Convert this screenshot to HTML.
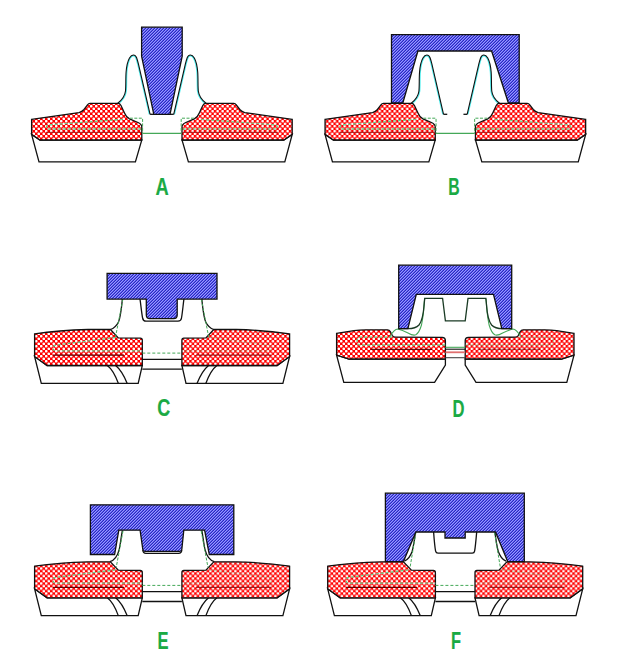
<!DOCTYPE html>
<html><head><meta charset="utf-8"><style>
html,body{margin:0;padding:0;background:#fff;}
svg{display:block;}
</style></head><body>
<svg width="625" height="658" viewBox="0 0 625 658">
<defs><pattern id="blue" width="6" height="6" patternUnits="userSpaceOnUse" shape-rendering="crispEdges"><rect x="0" y="0" width="1" height="1" fill="#9898ff"/><rect x="1" y="0" width="1" height="1" fill="#5a5af0"/><rect x="2" y="0" width="1" height="1" fill="#2a2abc"/><rect x="3" y="0" width="1" height="1" fill="#9898ff"/><rect x="4" y="0" width="1" height="1" fill="#5a5af0"/><rect x="5" y="0" width="1" height="1" fill="#2a2abc"/><rect x="0" y="1" width="1" height="1" fill="#5a5af0"/><rect x="1" y="1" width="1" height="1" fill="#2a2abc"/><rect x="2" y="1" width="1" height="1" fill="#9898ff"/><rect x="3" y="1" width="1" height="1" fill="#5a5af0"/><rect x="4" y="1" width="1" height="1" fill="#2a2abc"/><rect x="5" y="1" width="1" height="1" fill="#9898ff"/><rect x="0" y="2" width="1" height="1" fill="#2a2abc"/><rect x="1" y="2" width="1" height="1" fill="#9898ff"/><rect x="2" y="2" width="1" height="1" fill="#5a5af0"/><rect x="3" y="2" width="1" height="1" fill="#2a2abc"/><rect x="4" y="2" width="1" height="1" fill="#9898ff"/><rect x="5" y="2" width="1" height="1" fill="#5a5af0"/><rect x="0" y="3" width="1" height="1" fill="#9898ff"/><rect x="1" y="3" width="1" height="1" fill="#5a5af0"/><rect x="2" y="3" width="1" height="1" fill="#2a2abc"/><rect x="3" y="3" width="1" height="1" fill="#9898ff"/><rect x="4" y="3" width="1" height="1" fill="#5a5af0"/><rect x="5" y="3" width="1" height="1" fill="#2a2abc"/><rect x="0" y="4" width="1" height="1" fill="#5a5af0"/><rect x="1" y="4" width="1" height="1" fill="#2a2abc"/><rect x="2" y="4" width="1" height="1" fill="#9898ff"/><rect x="3" y="4" width="1" height="1" fill="#5a5af0"/><rect x="4" y="4" width="1" height="1" fill="#2a2abc"/><rect x="5" y="4" width="1" height="1" fill="#9898ff"/><rect x="0" y="5" width="1" height="1" fill="#2a2abc"/><rect x="1" y="5" width="1" height="1" fill="#9898ff"/><rect x="2" y="5" width="1" height="1" fill="#5a5af0"/><rect x="3" y="5" width="1" height="1" fill="#2a2abc"/><rect x="4" y="5" width="1" height="1" fill="#9898ff"/><rect x="5" y="5" width="1" height="1" fill="#5a5af0"/></pattern><pattern id="red" width="5" height="5" patternUnits="userSpaceOnUse">
  <rect width="5" height="5" fill="#f00"/>
  <circle cx="1.25" cy="1.25" r="1.35" fill="#fff"/>
  <circle cx="3.75" cy="3.75" r="1.35" fill="#fff"/>
</pattern><clipPath id="pclip"><path d="M117.5,103.5 C121,100.8 124.8,97 125.5,91 C126,86 125.6,78 126.1,72 C126.6,66 127.8,61 129.5,58 C130.8,55.8 132,55 133.4,55 C134.8,55 135.8,55.8 136.6,57.8 C137.2,59.5 137.8,61.5 138.4,63.8 L150.1,114.3 L150.1,116 L117.5,116 Z"/></clipPath></defs>
<path d="M117.5,103.5 C121,100.8 124.8,97 125.5,91 C126,86 125.6,78 126.1,72 C126.6,66 127.8,61 129.5,58 C130.8,55.8 132,55 133.4,55 C134.8,55 135.8,55.8 136.6,57.8 C137.2,59.5 137.8,61.5 138.4,63.8 L150.1,114.3" fill="none" stroke="#50f0f0" stroke-width="2.8" clip-path="url(#pclip)"/><path d="M117.5,103.5 C121,100.8 124.8,97 125.5,91 C126,86 125.6,78 126.1,72 C126.6,66 127.8,61 129.5,58 C130.8,55.8 132,55 133.4,55 C134.8,55 135.8,55.8 136.6,57.8 C137.2,59.5 137.8,61.5 138.4,63.8 L150.1,114.3" fill="none" stroke="#111" stroke-width="1.1"/><g transform="translate(323.80,0) scale(-1,1)"><path d="M117.5,103.5 C121,100.8 124.8,97 125.5,91 C126,86 125.6,78 126.1,72 C126.6,66 127.8,61 129.5,58 C130.8,55.8 132,55 133.4,55 C134.8,55 135.8,55.8 136.6,57.8 C137.2,59.5 137.8,61.5 138.4,63.8 L150.1,114.3" fill="none" stroke="#50f0f0" stroke-width="2.8" clip-path="url(#pclip)"/><path d="M117.5,103.5 C121,100.8 124.8,97 125.5,91 C126,86 125.6,78 126.1,72 C126.6,66 127.8,61 129.5,58 C130.8,55.8 132,55 133.4,55 C134.8,55 135.8,55.8 136.6,57.8 C137.2,59.5 137.8,61.5 138.4,63.8 L150.1,114.3" fill="none" stroke="#111" stroke-width="1.1"/></g><polygon points="31.60,134.40 40.00,140.00 141.80,140.00 135.40,161.90 39.00,161.90" fill="#fff" stroke="#111" stroke-width="1.3"/><path d="M31.6,119.3 L79,112.6 Q82,112 84,109.5 L87.5,104.8 Q88.5,103.4 90,103.4 L118.2,103.4 Q119.8,103.4 121,105.5 L124.5,113 Q126,117 129.5,118.8 L138,122.5 Q141.8,124.3 141.8,127 L141.8,140 L40,140 L31.6,134.4 Z" fill="url(#red)" stroke="#111" stroke-width="1.3"/><line x1="46" y1="132.4" x2="141" y2="132.4" stroke="#800" stroke-width="1.3" opacity="0.6"/><path d="M122.4,119.4 L49,124.8 Q46.5,125 46.5,127 Q46.5,129 49,129 L141.8,129" fill="none" stroke="#70cc88" stroke-width="1.3" stroke-dasharray="3,2" opacity="1"/><g transform="translate(323.80,0) scale(-1,1)"><polygon points="31.60,134.40 40.00,140.00 141.80,140.00 135.40,161.90 39.00,161.90" fill="#fff" stroke="#111" stroke-width="1.3"/><path d="M31.6,119.3 L79,112.6 Q82,112 84,109.5 L87.5,104.8 Q88.5,103.4 90,103.4 L118.2,103.4 Q119.8,103.4 121,105.5 L124.5,113 Q126,117 129.5,118.8 L138,122.5 Q141.8,124.3 141.8,127 L141.8,140 L40,140 L31.6,134.4 Z" fill="url(#red)" stroke="#111" stroke-width="1.3"/><line x1="46" y1="132.4" x2="141" y2="132.4" stroke="#800" stroke-width="1.3" opacity="0.6"/><path d="M122.4,119.4 L49,124.8 Q46.5,125 46.5,127 Q46.5,129 49,129 L141.8,129" fill="none" stroke="#70cc88" stroke-width="1.3" stroke-dasharray="3,2" opacity="0.9"/></g><polyline points="129.8,118.2 142.6,118.2 142.6,133.4" fill="none" stroke="#44a858" stroke-width="1" stroke-dasharray="3,1.5"/><polyline points="194.0,118.2 181.20000000000002,118.2 181.20000000000002,133.4" fill="none" stroke="#44a858" stroke-width="1" stroke-dasharray="3,1.5"/><line x1="142.6" y1="133.4" x2="181.20000000000002" y2="133.4" stroke="#44a858" stroke-width="1.2"/><line x1="150.1" y1="114.3" x2="173.7" y2="114.3" stroke="#111" stroke-width="1.3"/><polygon points="141.6,27.2 182.2,27.2 182.2,56.2 170,114.3 153.8,114.3 141.6,56.2" fill="url(#blue)" stroke="#111" stroke-width="1.3"/><g transform="translate(293.45,0)"><path d="M117.5,103.5 C121,100.8 124.8,97 125.5,91 C126,86 125.6,78 126.1,72 C126.6,66 127.8,61 129.5,58 C130.8,55.8 132,55 133.4,55 C134.8,55 135.8,55.8 136.6,57.8 C137.2,59.5 137.8,61.5 138.4,63.8 L150.1,114.3" fill="none" stroke="#50f0f0" stroke-width="2.8" clip-path="url(#pclip)"/><path d="M117.5,103.5 C121,100.8 124.8,97 125.5,91 C126,86 125.6,78 126.1,72 C126.6,66 127.8,61 129.5,58 C130.8,55.8 132,55 133.4,55 C134.8,55 135.8,55.8 136.6,57.8 C137.2,59.5 137.8,61.5 138.4,63.8 L150.1,114.3" fill="none" stroke="#111" stroke-width="1.1"/><line x1="150.1" y1="114.3" x2="153.8" y2="114.3" stroke="#111" stroke-width="1.3"/><g transform="translate(323.80,0) scale(-1,1)"><path d="M117.5,103.5 C121,100.8 124.8,97 125.5,91 C126,86 125.6,78 126.1,72 C126.6,66 127.8,61 129.5,58 C130.8,55.8 132,55 133.4,55 C134.8,55 135.8,55.8 136.6,57.8 C137.2,59.5 137.8,61.5 138.4,63.8 L150.1,114.3" fill="none" stroke="#50f0f0" stroke-width="2.8" clip-path="url(#pclip)"/><path d="M117.5,103.5 C121,100.8 124.8,97 125.5,91 C126,86 125.6,78 126.1,72 C126.6,66 127.8,61 129.5,58 C130.8,55.8 132,55 133.4,55 C134.8,55 135.8,55.8 136.6,57.8 C137.2,59.5 137.8,61.5 138.4,63.8 L150.1,114.3" fill="none" stroke="#111" stroke-width="1.1"/><line x1="150.1" y1="114.3" x2="153.8" y2="114.3" stroke="#111" stroke-width="1.3"/></g><polygon points="31.60,134.40 40.00,140.00 141.80,140.00 135.40,161.90 39.00,161.90" fill="#fff" stroke="#111" stroke-width="1.3"/><path d="M31.6,119.3 L79,112.6 Q82,112 84,109.5 L87.5,104.8 Q88.5,103.4 90,103.4 L118.2,103.4 Q119.8,103.4 121,105.5 L124.5,113 Q126,117 129.5,118.8 L138,122.5 Q141.8,124.3 141.8,127 L141.8,140 L40,140 L31.6,134.4 Z" fill="url(#red)" stroke="#111" stroke-width="1.3"/><line x1="46" y1="132.4" x2="141" y2="132.4" stroke="#800" stroke-width="1.3" opacity="0.6"/><path d="M122.4,119.4 L49,124.8 Q46.5,125 46.5,127 Q46.5,129 49,129 L141.8,129" fill="none" stroke="#70cc88" stroke-width="1.3" stroke-dasharray="3,2" opacity="1"/><g transform="translate(323.80,0) scale(-1,1)"><polygon points="31.60,134.40 40.00,140.00 141.80,140.00 135.40,161.90 39.00,161.90" fill="#fff" stroke="#111" stroke-width="1.3"/><path d="M31.6,119.3 L79,112.6 Q82,112 84,109.5 L87.5,104.8 Q88.5,103.4 90,103.4 L118.2,103.4 Q119.8,103.4 121,105.5 L124.5,113 Q126,117 129.5,118.8 L138,122.5 Q141.8,124.3 141.8,127 L141.8,140 L40,140 L31.6,134.4 Z" fill="url(#red)" stroke="#111" stroke-width="1.3"/><line x1="46" y1="132.4" x2="141" y2="132.4" stroke="#800" stroke-width="1.3" opacity="0.6"/><path d="M122.4,119.4 L49,124.8 Q46.5,125 46.5,127 Q46.5,129 49,129 L141.8,129" fill="none" stroke="#70cc88" stroke-width="1.3" stroke-dasharray="3,2" opacity="0.9"/></g><polyline points="129.8,118.2 142.6,118.2 142.6,133.4" fill="none" stroke="#44a858" stroke-width="1" stroke-dasharray="3,1.5"/><polyline points="194.0,118.2 181.20000000000002,118.2 181.20000000000002,133.4" fill="none" stroke="#44a858" stroke-width="1" stroke-dasharray="3,1.5"/><line x1="142.6" y1="133.4" x2="181.20000000000002" y2="133.4" stroke="#44a858" stroke-width="1.2"/></g><polygon points="391.5,34.6 519.2,34.6 519.2,103 508.4,103 491.6,51 417.9,51 402.8,103 391.5,103" fill="url(#blue)" stroke="#111" stroke-width="1.3"/><path d="M34.6,356.5 L47.1,365.5 L142.3,365.5 L138.2,383.3 L41.3,383.3 Z" fill="#fff" stroke="#111" stroke-width="1.3"/><path d="M107.3,365.5 C112,369 114.5,373 118.3,383.3 M115.7,365.5 C120.5,369.5 123,373 127.1,383.3" fill="none" stroke="#111" stroke-width="1.3"/><path d="M34.6,333.9 C50,331.6 62,330.2 88,329.5 L110.4,329.5 L118.3,337.9 L140.3,338.2 Q142.3,338.2 142.3,340.2 L142.3,365.5 L47.1,365.5 L34.6,356.5 Z" fill="url(#red)" stroke="#111" stroke-width="1.3"/><line x1="53" y1="355.1" x2="124" y2="355.1" stroke="#600" stroke-width="1.3"/><path d="M115.4,337.6 L56,345 Q53,345.4 53,348 Q53,350.9 56,350.9 L142.3,350.9" fill="none" stroke="#70cc88" stroke-width="1.3" stroke-dasharray="3,2" opacity="1"/><g transform="translate(324.20,0) scale(-1,1)"><path d="M34.6,356.5 L47.1,365.5 L142.3,365.5 L138.2,383.3 L41.3,383.3 Z" fill="#fff" stroke="#111" stroke-width="1.3"/><path d="M107.3,365.5 C112,369 114.5,373 118.3,383.3 M115.7,365.5 C120.5,369.5 123,373 127.1,383.3" fill="none" stroke="#111" stroke-width="1.3"/><path d="M34.6,333.9 C50,331.6 62,330.2 88,329.5 L110.4,329.5 L118.3,337.9 L140.3,338.2 Q142.3,338.2 142.3,340.2 L142.3,365.5 L47.1,365.5 L34.6,356.5 Z" fill="url(#red)" stroke="#111" stroke-width="1.3"/><line x1="53" y1="355.1" x2="128" y2="355.1" stroke="#700" stroke-width="1.3" opacity="0.7"/><path d="M115.4,337.6 L56,345 Q53,345.4 53,348 Q53,350.9 56,350.9 L142.3,350.9" fill="none" stroke="#70cc88" stroke-width="1.3" stroke-dasharray="3,2" opacity="0.35"/></g><line x1="142.3" y1="353.1" x2="181.89999999999998" y2="353.1" stroke="#44a858" stroke-width="1" stroke-dasharray="3,2"/><line x1="142.3" y1="359.3" x2="181.89999999999998" y2="359.3" stroke="#111" stroke-width="1.3"/><line x1="142.3" y1="369.2" x2="181.89999999999998" y2="369.2" stroke="#111" stroke-width="1.3"/><path d="M110.4,329.5 C113.5,328.5 116.5,326 118.5,322 C120.5,318 121.3,310 122.4,299.1" fill="none" stroke="#111" stroke-width="1.3"/><path d="M122.9,299.1 L115.4,337.6" fill="none" stroke="#44a858" stroke-width="1" stroke-dasharray="3,1.5"/><g transform="translate(324.20,0) scale(-1,1)"><path d="M110.4,329.5 C113.5,328.5 116.5,326 118.5,322 C120.5,318 121.3,310 122.4,299.1" fill="none" stroke="#111" stroke-width="1.3"/><path d="M122.9,299.1 L115.4,337.6" fill="none" stroke="#44a858" stroke-width="1" stroke-dasharray="3,1.5"/></g><path d="M140,299.1 C141,306 141.6,313 142.6,318 Q143.2,321.2 146,321.2 L178,321.2 Q181,321.2 181.5,318 C182.4,313 183,306 183.9,299.1" fill="none" stroke="#111" stroke-width="1.3"/><path d="M107.1,273.3 L217,273.3 L217,299.1 L177.2,299.1 L177.2,315 Q177.2,318.6 173.6,318.6 L149.9,318.6 Q146.3,318.6 146.3,315 L146.3,299.1 L107.1,299.1 Z" fill="url(#blue)" stroke="#111" stroke-width="1.3"/><g transform="translate(0,232.3)"><path d="M34.6,356.5 L47.1,365.5 L142.3,365.5 L138.2,383.3 L41.3,383.3 Z" fill="#fff" stroke="#111" stroke-width="1.3"/><path d="M107.3,365.5 C112,369 114.5,373 118.3,383.3 M115.7,365.5 C120.5,369.5 123,373 127.1,383.3" fill="none" stroke="#111" stroke-width="1.3"/><path d="M34.6,333.9 C50,331.6 62,330.2 88,329.5 L110.4,329.5 L118.3,337.9 L140.3,338.2 Q142.3,338.2 142.3,340.2 L142.3,365.5 L47.1,365.5 L34.6,356.5 Z" fill="url(#red)" stroke="#111" stroke-width="1.3"/><line x1="53" y1="355.1" x2="124" y2="355.1" stroke="#600" stroke-width="1.3"/><path d="M115.4,337.6 L56,345 Q53,345.4 53,348 Q53,350.9 56,350.9 L142.3,350.9" fill="none" stroke="#70cc88" stroke-width="1.3" stroke-dasharray="3,2" opacity="1"/><g transform="translate(324.20,0) scale(-1,1)"><path d="M34.6,356.5 L47.1,365.5 L142.3,365.5 L138.2,383.3 L41.3,383.3 Z" fill="#fff" stroke="#111" stroke-width="1.3"/><path d="M107.3,365.5 C112,369 114.5,373 118.3,383.3 M115.7,365.5 C120.5,369.5 123,373 127.1,383.3" fill="none" stroke="#111" stroke-width="1.3"/><path d="M34.6,333.9 C50,331.6 62,330.2 88,329.5 L110.4,329.5 L118.3,337.9 L140.3,338.2 Q142.3,338.2 142.3,340.2 L142.3,365.5 L47.1,365.5 L34.6,356.5 Z" fill="url(#red)" stroke="#111" stroke-width="1.3"/><line x1="53" y1="355.1" x2="128" y2="355.1" stroke="#700" stroke-width="1.3" opacity="0.7"/><path d="M115.4,337.6 L56,345 Q53,345.4 53,348 Q53,350.9 56,350.9 L142.3,350.9" fill="none" stroke="#70cc88" stroke-width="1.3" stroke-dasharray="3,2" opacity="0.35"/></g><line x1="142.3" y1="353.1" x2="181.89999999999998" y2="353.1" stroke="#44a858" stroke-width="1" stroke-dasharray="3,2"/><line x1="142.3" y1="359.3" x2="181.89999999999998" y2="359.3" stroke="#111" stroke-width="1.3"/><line x1="142.3" y1="369.2" x2="181.89999999999998" y2="369.2" stroke="#111" stroke-width="1.3"/></g><path d="M110,561.6 C113.5,560.5 117,558.5 119.3,549.1 C120.5,543 121.4,535.6 122.4,530.4" fill="none" stroke="#111" stroke-width="1.3"/><path d="M123,531 L116.2,567.5" fill="none" stroke="#44a858" stroke-width="1" stroke-dasharray="3,1.5"/><g transform="translate(324.20,0) scale(-1,1)"><path d="M110,561.6 C113.5,560.5 117,558.5 119.3,549.1 C120.5,543 121.4,535.6 122.4,530.4" fill="none" stroke="#111" stroke-width="1.3"/><path d="M123,531 L116.2,567.5" fill="none" stroke="#44a858" stroke-width="1" stroke-dasharray="3,1.5"/></g><path d="M142.8,550 Q143,553.3 146,553.3 L178.5,553.3 Q181.6,553.3 181.8,550" fill="none" stroke="#111" stroke-width="1.3"/><path d="M90.4,504.8 L233.8,504.8 L233.8,554.5 L209.3,554.5 L204.6,530.2 L183.8,530.2 L181.8,549.5 Q181.6,551.4 179.5,551.4 L145,551.4 Q143,551.4 142.8,549.5 L140.1,530.2 L118.8,530.2 L114.6,554.5 L90.4,554.5 Z" fill="url(#blue)" stroke="#111" stroke-width="1.3"/><g transform="translate(293.1,232.3)"><path d="M34.6,356.5 L47.1,365.5 L142.3,365.5 L138.2,383.3 L41.3,383.3 Z" fill="#fff" stroke="#111" stroke-width="1.3"/><path d="M107.3,365.5 C112,369 114.5,373 118.3,383.3 M115.7,365.5 C120.5,369.5 123,373 127.1,383.3" fill="none" stroke="#111" stroke-width="1.3"/><path d="M34.6,333.9 C50,331.6 62,330.2 88,329.5 L110.4,329.5 L118.3,337.9 L140.3,338.2 Q142.3,338.2 142.3,340.2 L142.3,365.5 L47.1,365.5 L34.6,356.5 Z" fill="url(#red)" stroke="#111" stroke-width="1.3"/><line x1="53" y1="355.1" x2="124" y2="355.1" stroke="#600" stroke-width="1.3"/><path d="M115.4,337.6 L56,345 Q53,345.4 53,348 Q53,350.9 56,350.9 L142.3,350.9" fill="none" stroke="#70cc88" stroke-width="1.3" stroke-dasharray="3,2" opacity="1"/><g transform="translate(324.20,0) scale(-1,1)"><path d="M34.6,356.5 L47.1,365.5 L142.3,365.5 L138.2,383.3 L41.3,383.3 Z" fill="#fff" stroke="#111" stroke-width="1.3"/><path d="M107.3,365.5 C112,369 114.5,373 118.3,383.3 M115.7,365.5 C120.5,369.5 123,373 127.1,383.3" fill="none" stroke="#111" stroke-width="1.3"/><path d="M34.6,333.9 C50,331.6 62,330.2 88,329.5 L110.4,329.5 L118.3,337.9 L140.3,338.2 Q142.3,338.2 142.3,340.2 L142.3,365.5 L47.1,365.5 L34.6,356.5 Z" fill="url(#red)" stroke="#111" stroke-width="1.3"/><line x1="53" y1="355.1" x2="128" y2="355.1" stroke="#700" stroke-width="1.3" opacity="0.7"/><path d="M115.4,337.6 L56,345 Q53,345.4 53,348 Q53,350.9 56,350.9 L142.3,350.9" fill="none" stroke="#70cc88" stroke-width="1.3" stroke-dasharray="3,2" opacity="0.35"/></g><line x1="142.3" y1="353.1" x2="181.89999999999998" y2="353.1" stroke="#44a858" stroke-width="1" stroke-dasharray="3,2"/><line x1="142.3" y1="359.3" x2="181.89999999999998" y2="359.3" stroke="#111" stroke-width="1.3"/><line x1="142.3" y1="369.2" x2="181.89999999999998" y2="369.2" stroke="#111" stroke-width="1.3"/></g><path d="M404.4,561.1 C407,560 410,557.5 412.2,551.2 C413.5,546 414.5,540 415.4,532.5" fill="none" stroke="#111" stroke-width="1.3"/><path d="M415.9,532.5 L410.2,566.5" fill="none" stroke="#44a858" stroke-width="1" stroke-dasharray="3,1.5"/><g transform="translate(910.40,0) scale(-1,1)"><path d="M404.4,561.1 C407,560 410,557.5 412.2,551.2 C413.5,546 414.5,540 415.4,532.5" fill="none" stroke="#111" stroke-width="1.3"/><path d="M415.9,532.5 L410.2,566.5" fill="none" stroke="#44a858" stroke-width="1" stroke-dasharray="3,1.5"/></g><path d="M433.6,532 C434.2,540 434.8,547 435.6,551.2 Q436,553.2 438,553.2 L472.3,553.2 Q474.3,553.2 474.6,551.2 C475.4,547 476,540 476.7,532" fill="none" stroke="#111" stroke-width="1.3"/><path d="M385.4,493.2 L524.3,493.2 L524.3,561.6 L507.7,561.6 L495.5,532 L465.2,532 L465.2,538 L445,538 L445,532 L415.9,532 L403.4,561.6 L385.4,561.6 Z" fill="url(#blue)" stroke="#111" stroke-width="1.3"/><path d="M336.6,355.1 L349.1,359 L445.4,359 L445.4,365.1 L434.6,382.3 L343.8,382.3 Z" fill="#fff" stroke="#111" stroke-width="1.3"/><path d="M336.6,333.3 L354,330.6 Q359,329.8 366,329.8 L387.5,329.8 Q389.3,329.8 390.3,331.5 L392.3,335.5 Q393.3,337.2 395.5,337.2 L442.2,337.4 Q445.4,337.6 445.4,340.5 L445.4,359 L349.1,359 L336.6,355.1 Z" fill="url(#red)" stroke="#111" stroke-width="1.3"/><line x1="370.4" y1="349.3" x2="432" y2="349.3" stroke="#500" stroke-width="1.3" opacity="0.9"/><path d="M392,337.2 L360,337.2 Q357.1,337.2 357.1,341 Q357.1,345 360,345 L445.4,345" fill="none" stroke="#70cc88" stroke-width="1.3" stroke-dasharray="3,2" opacity="1"/><g transform="translate(910.60,0) scale(-1,1)"><path d="M336.6,355.1 L349.1,359 L445.4,359 L445.4,365.1 L434.6,382.3 L343.8,382.3 Z" fill="#fff" stroke="#111" stroke-width="1.3"/><path d="M336.6,333.3 L354,330.6 Q359,329.8 366,329.8 L387.5,329.8 Q389.3,329.8 390.3,331.5 L392.3,335.5 Q393.3,337.2 395.5,337.2 L442.2,337.4 Q445.4,337.6 445.4,340.5 L445.4,359 L349.1,359 L336.6,355.1 Z" fill="url(#red)" stroke="#111" stroke-width="1.3"/><line x1="370.4" y1="349.3" x2="432" y2="349.3" stroke="#500" stroke-width="1.3" opacity="0.45"/><path d="M392,337.2 L360,337.2 Q357.1,337.2 357.1,341 Q357.1,345 360,345 L445.4,345" fill="none" stroke="#70cc88" stroke-width="1.3" stroke-dasharray="3,2" opacity="0.45"/></g><line x1="445.4" y1="347.3" x2="465.2" y2="347.3" stroke="#44a858" stroke-width="1.1"/><line x1="445.4" y1="349.2" x2="465.2" y2="349.2" stroke="#111" stroke-width="1.1"/><line x1="445.4" y1="352.3" x2="465.2" y2="352.3" stroke="#e07070" stroke-width="1.8"/><line x1="445.4" y1="357.7" x2="465.2" y2="357.7" stroke="#444" stroke-width="1.1"/><path d="M389.8,336.8 C392.5,332 395.5,329 397.8,329 C401,329.8 404,331 408,333 C411,334.8 414,335.5 415.8,334.8 C418,333.5 420,330 421.5,325 C423,318 423.8,310 424.3,302 L424.7,298.8" fill="none" stroke="#44a858" stroke-width="1.1"/><g transform="translate(910.60,0) scale(-1,1)"><path d="M389.8,336.8 C392.5,332 395.5,329 397.8,329 C401,329.8 404,331 408,333 C411,334.8 414,335.5 415.8,334.8 C418,333.5 420,330 421.5,325 C423,318 423.8,310 424.3,302 L424.7,298.8" fill="none" stroke="#44a858" stroke-width="1.1"/></g><path d="M398.7,328.7 L407.9,328.7 C412,328.7 416,328.2 419,325 C422,321 423.5,313 424,306 L424.7,298.4 L442.6,298.4 L445.4,320.8 L465.2,320.8 L468,298.4 L485.9,298.4 L486.6,306 C487.1,313 488.6,321 491.6,325 C494.6,328.2 498.6,328.7 502.7,328.7 L511.7,328.7" fill="none" stroke="#1a3a24" stroke-width="1.3"/><path d="M398.7,265.2 L511.7,265.2 L511.7,328.7 L501.8,328.7 L493.5,294.4 L416.3,294.4 L407.9,328.7 L398.7,328.7 Z" fill="url(#blue)" stroke="#111" stroke-width="1.3"/><text x="155.6" y="195.2" font-family="'Liberation Sans', sans-serif" font-weight="bold" font-size="24.2" fill="#1aaa44" stroke="#1aaa44" stroke-width="0.2" textLength="13.2" lengthAdjust="spacingAndGlyphs">A</text><text x="448.3" y="195.2" font-family="'Liberation Sans', sans-serif" font-weight="bold" font-size="24.2" fill="#1aaa44" stroke="#1aaa44" stroke-width="0.2" textLength="11.4" lengthAdjust="spacingAndGlyphs">B</text><text x="157.3" y="416.2" font-family="'Liberation Sans', sans-serif" font-weight="bold" font-size="24.2" fill="#1aaa44" stroke="#1aaa44" stroke-width="0.2" textLength="13" lengthAdjust="spacingAndGlyphs">C</text><text x="452.4" y="416.6" font-family="'Liberation Sans', sans-serif" font-weight="bold" font-size="24.2" fill="#1aaa44" stroke="#1aaa44" stroke-width="0.2" textLength="12" lengthAdjust="spacingAndGlyphs">D</text><text x="157.4" y="648.9" font-family="'Liberation Sans', sans-serif" font-weight="bold" font-size="24.2" fill="#1aaa44" stroke="#1aaa44" stroke-width="0.2" textLength="11" lengthAdjust="spacingAndGlyphs">E</text><text x="451" y="648.9" font-family="'Liberation Sans', sans-serif" font-weight="bold" font-size="24.2" fill="#1aaa44" stroke="#1aaa44" stroke-width="0.2" textLength="10" lengthAdjust="spacingAndGlyphs">F</text>
</svg>
</body></html>
